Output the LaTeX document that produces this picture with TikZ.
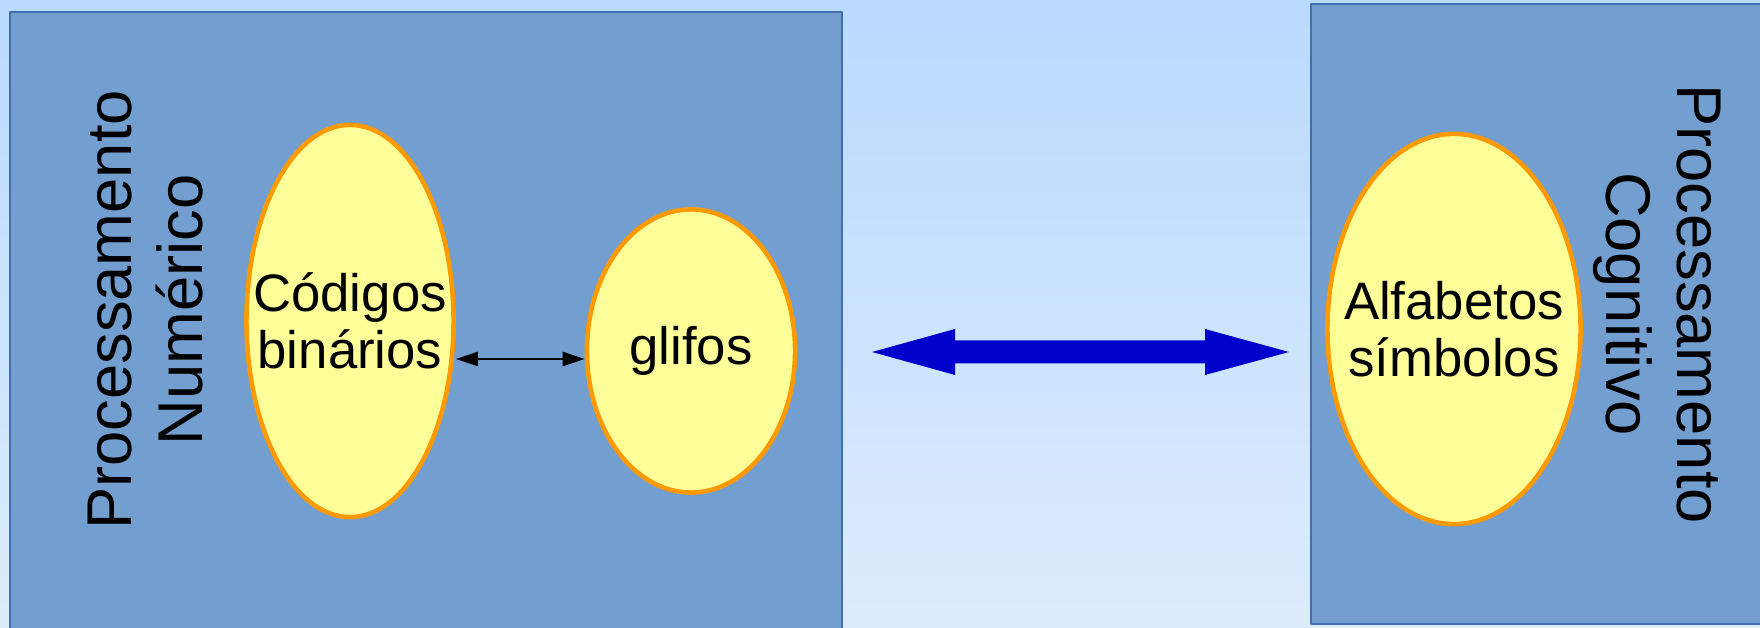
\documentclass[tikz,border=0pt]{standalone}
\usepackage{fontspec}
\setmainfont{Liberation Sans}
\usetikzlibrary{shapes.geometric,arrows.meta}
\definecolor{boxblue}{HTML}{729FCF}
\definecolor{boxedge}{HTML}{3F6FAE}
\definecolor{ellfill}{HTML}{FFFF99}
\definecolor{elledge}{HTML}{FF9900}
\definecolor{arrblue}{HTML}{0000CC}
\definecolor{bgtop}{HTML}{B9DAFF}
\definecolor{bgbot}{HTML}{DDECFD}
\begin{document}
\begin{tikzpicture}[x=0.01cm,y=-0.01cm,line join=round,
  panel/.style={fill=boxblue,draw=boxedge,line width=0.5pt},
  blob/.style={ellipse,fill=ellfill,draw=elledge,line width=1.3pt,inner sep=0pt},
  blobtext/.style={align=center,inner sep=0pt,font=\fontsize{15}{16.2}\selectfont},
  sidetext/.style={align=center,inner sep=0pt,font=\fontsize{18}{20.2}\selectfont},
  link/.style={{Triangle[length=0.22cm,width=0.14cm]}-{Triangle[length=0.22cm,width=0.14cm]},line width=0.6pt}]
  \useasboundingbox (0,0) rectangle (1760,628);
  \shade[top color=bgtop,bottom color=bgbot] (0,0) rectangle (1760,628);
  % the two panels
  \draw[panel] (10,12) rectangle (842,640);
  \draw[panel] (1311,4) rectangle (1775,624);
  \node[sidetext,rotate=90] (num) at (146,310) {Processamento\\Numérico};
  \node[sidetext,rotate=-90] (cog) at (1657,304) {Processamento\\Cognitivo};
  % ellipses
  \node[blob,minimum width=2.07cm,minimum height=3.92cm] (bin) at (350,321) {};
  \node[blobtext] (bintxt) at (bin) {Códigos\\binários};
  \node[blob,minimum width=2.08cm,minimum height=2.83cm] (gli) at (691,351) {};
  \node[blobtext] (glitxt) at (gli) {glifos};
  \node[blob,minimum width=2.53cm,minimum height=3.90cm] (alf) at (1454,329) {};
  \node[blobtext] (alftxt) at (alf) {Alfabetos\\símbolos};
  \coordinate (lvl) at (0,359);
  \draw[link] (bin.east |- lvl) -- (gli.west |- lvl);
  % big double arrow
  \coordinate (ltip) at (872,352);
  \coordinate (rtip) at (1289,352);
  \fill[arrblue] (ltip) -- ++(83,-23) -- ++(0,11.5) -- ++(250,0) -- ++(0,-11.5)
    -- (rtip) -- ++(-84,23) -- ++(0,-11.5) -- ++(-250,0) -- ++(0,11.5) -- cycle;
\end{tikzpicture}
\end{document}
